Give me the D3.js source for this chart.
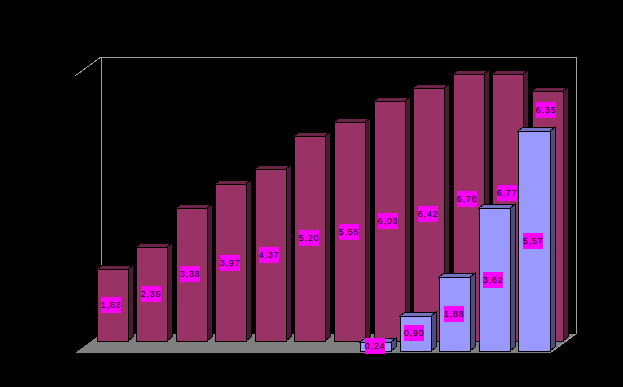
<!DOCTYPE html>
<html>
<head>
<meta charset="utf-8">
<script src="https://cdnjs.cloudflare.com/ajax/libs/d3/7.8.5/d3.min.js"></script>
<style>
  html, body { margin: 0; padding: 0; background: #000; overflow: hidden; }
  svg { display: block; }
  .lbl text { font: 9px "Liberation Sans", Arial, sans-serif; letter-spacing: 0.8px; fill: #000; }
</style>
</head>
<body>
<svg id="chart" width="623" height="387"></svg>
<script>
// values, no axis labels are shown on the chart
var categories = ['1', '2', '3', '4', '5', '6', '7', '8', '9', '10', '11', '12'];
var backValues = [1.83, 2.39, 3.38, 3.97, 4.37, 5.20, 5.55, 6.08, 6.42, 6.78, 6.77, 6.35];
var frontValues = [null, null, null, null, null, null, null, 0.24, 0.90, 1.88, 3.62, 5.57];

// the three labels that were dragged off centre in the original
var backLabelShift = { '10': -8, '11': -15, '12': -106 };

var svg = d3.select('#chart');

var barBase = 351, plotTop = 75;    // front row, value 0 and value 7
var floorFront = 353, floorBack = 334, wallTop = 57;
var depthX = 26;                    // how far the back wall sits from the front
var rowX = 13.5, rowY = -10;        // back row offset from front row
var barDX = 5, barDY = -4;          // depth of a single bar
var leftX = 75, rightX = 550;

var x = d3.scaleBand()
  .domain(categories)
  .range([83, rightX - 0.5])
  .paddingInner(0.215)
  .paddingOuter(0);

var y = d3.scaleLinear().domain([0, 7]).range([barBase, plotTop]);

function pts(a) {
  return a.map(function (p) { return p.join(','); }).join(' ');
}

// floor and walls
svg.append('polygon')
  .attr('points', pts([[leftX, floorFront], [rightX, floorFront], [rightX + depthX, floorBack], [leftX + depthX, floorBack]]))
  .attr('fill', '#808080')
  .attr('shape-rendering', 'crispEdges');

var wall = [
  [[leftX, wallTop + 19], [leftX + depthX, wallTop]],
  [[leftX + depthX, wallTop], [rightX + depthX, wallTop]],
  [[leftX + depthX, wallTop], [leftX + depthX, floorBack]],
  [[rightX + depthX, wallTop], [rightX + depthX, floorBack]],
  [[rightX + depthX, floorBack], [rightX, floorFront]]
];
svg.selectAll('.wall').data(wall).enter().append('line')
  .attr('class', 'wall')
  .attr('x1', function (d) { return d[0][0]; })
  .attr('y1', function (d) { return d[0][1]; })
  .attr('x2', function (d) { return d[1][0]; })
  .attr('y2', function (d) { return d[1][1]; })
  .attr('stroke', '#a0a0a0')
  .attr('shape-rendering', 'crispEdges');

function drawBars(values, dx, dy, colors) {
  var g = svg.append('g');
  categories.forEach(function (c, i) {
    var v = values[i];
    if (v === null) return;
    var x0 = Math.round(x(c) + dx), x1 = Math.round(x(c) + dx + x.bandwidth());
    var y0 = Math.round(y(v) + dy), y1 = Math.round(y(0) + dy);
    var bar = g.append('g').attr('stroke', '#000').attr('shape-rendering', 'crispEdges');
    bar.append('polygon')
      .attr('points', pts([[x0, y0], [x1, y0], [x1 + barDX, y0 + barDY], [x0 + barDX, y0 + barDY]]))
      .attr('fill', colors.top);
    bar.append('polygon')
      .attr('points', pts([[x1, y0], [x1 + barDX, y0 + barDY], [x1 + barDX, y1 + barDY], [x1, y1]]))
      .attr('fill', colors.side);
    bar.append('rect')
      .attr('x', x0).attr('y', y0)
      .attr('width', x1 - x0).attr('height', y1 - y0)
      .attr('fill', colors.front);
  });
}

function drawLabels(values, dx, dy, shift) {
  var g = svg.append('g').attr('class', 'lbl');
  categories.forEach(function (c, i) {
    var v = values[i];
    if (v === null) return;
    var cx = Math.round(x(c) + dx + x.bandwidth() / 2) - 1;
    var cy = Math.round((y(v) + y(0)) / 2 + dy + (shift[c] || 0));
    g.append('rect')
      .attr('x', cx - 10).attr('y', cy - 8)
      .attr('width', 20).attr('height', 16)
      .attr('fill', '#ff00ff');
    g.append('text')
      .attr('x', cx).attr('y', cy + 3)
      .attr('text-anchor', 'middle')
      .text(v.toFixed(2).replace('.', ','));
  });
}

drawBars(backValues, rowX, rowY, { front: '#993366', side: '#4d1a33', top: '#6b2347' });
drawBars(frontValues, 0, 0, { front: '#9999ff', side: '#4d4d80', top: '#7373bf' });
drawLabels(backValues, rowX, rowY, backLabelShift);
drawLabels(frontValues, 0, 0, {});
</script>
</body>
</html>
